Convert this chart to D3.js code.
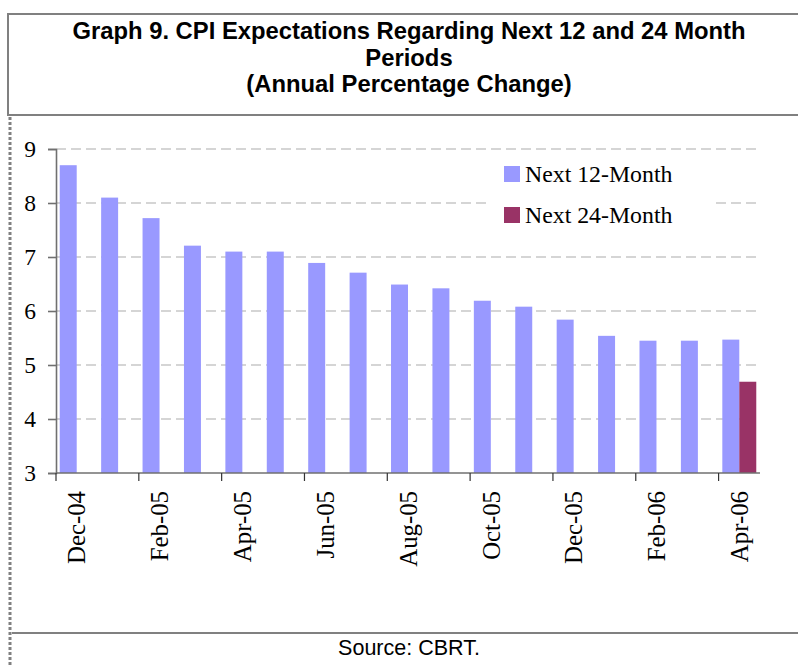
<!DOCTYPE html>
<html>
<head>
<meta charset="utf-8">
<script src="https://cdn.jsdelivr.net/npm/d3@7"></script>
<style>
  body { margin: 0; background: white; }
  svg { display: block; }
</style>
</head>
<body>
<svg width="798" height="666"></svg>
<script>
// data
const months = ['Dec-04','Jan-05','Feb-05','Mar-05','Apr-05','May-05','Jun-05','Jul-05','Aug-05',
                'Sep-05','Oct-05','Nov-05','Dec-05','Jan-06','Feb-06','Mar-06','Apr-06'];
const next12 = [8.7, 8.1, 7.72, 7.21, 7.1, 7.1, 6.89, 6.71, 6.49, 6.42, 6.19, 6.08, 5.84, 5.54, 5.45, 5.45, 5.47];
const next24 = [null, null, null, null, null, null, null, null, null, null, null, null, null, null, null, null, 4.69];
const seriesNames = ['Next 12-Month', 'Next 24-Month'];
const colors = ['#9999ff', '#993366'];
const yTicks = [3, 4, 5, 6, 7, 8, 9];

const svg = d3.select('svg');
const width = +svg.attr('width');
const height = +svg.attr('height');

const serif = '"Liberation Serif", "Times New Roman", serif';
const sans = '"Liberation Sans", Arial, sans-serif';

// frame: title box, dotted left edge, source line
svg.append('path')
    .attr('d', `M${width},14 H8 V115 H${width}`)
    .attr('fill', 'none')
    .attr('stroke', '#808080')
    .attr('stroke-width', 2);

svg.append('line')
    .attr('x1', 10).attr('x2', 10)
    .attr('y1', 117).attr('y2', height)
    .attr('stroke', '#808080')
    .attr('stroke-width', 3)
    .attr('stroke-dasharray', '3,2');

svg.append('line')
    .attr('x1', 12).attr('x2', width)
    .attr('y1', 633).attr('y2', 633)
    .attr('stroke', '#808080')
    .attr('stroke-width', 2);

const titleLines = ['Graph 9. CPI Expectations Regarding Next 12 and 24 Month', 'Periods', '(Annual Percentage Change)'];
svg.append('g')
    .selectAll('text')
    .data(titleLines)
  .enter().append('text')
    .attr('x', 409)
    .attr('y', (d, i) => 39 + i * 26.5)
    .attr('text-anchor', 'middle')
    .attr('font-family', sans)
    .attr('font-weight', 'bold')
    .attr('font-size', 23.8)
    .text(d => d);

svg.append('text')
    .attr('x', 409)
    .attr('y', 655)
    .attr('text-anchor', 'middle')
    .attr('font-family', sans)
    .attr('font-size', 21.5)
    .text('Source: CBRT.');

// chart
const x0 = d3.scaleBand()
    .domain(months)
    .range([56, 760])
    .paddingInner(0.18)
    .paddingOuter(0.09);

const x1 = d3.scaleBand()
    .domain([0, 1])
    .range([0, x0.bandwidth()]);

const y = d3.scaleLinear()
    .domain([3, 9])
    .range([473, 149]);

// gridlines
svg.append('g')
    .selectAll('line')
    .data(yTicks.slice(1))
  .enter().append('line')
    .attr('x1', 56).attr('x2', 757)
    .attr('y1', d => y(d)).attr('y2', d => y(d))
    .attr('stroke', '#c8c8c8')
    .attr('stroke-width', 1.5)
    .attr('stroke-dasharray', '10,5');

// bars
const rows = months.map((m, i) => ({ month: m, values: [next12[i], next24[i]] }));

svg.append('g')
    .selectAll('g')
    .data(rows)
  .enter().append('g')
    .attr('transform', d => `translate(${x0(d.month)},0)`)
    .selectAll('rect')
    .data(d => d.values.map((v, k) => ({ k, v })).filter(e => e.v != null))
  .enter().append('rect')
    .attr('x', d => x1(d.k))
    .attr('width', x1.bandwidth())
    .attr('y', d => y(d.v))
    .attr('height', d => y(3) - y(d.v))
    .attr('fill', d => colors[d.k]);

// y axis
const yAxis = svg.append('g')
    .attr('transform', 'translate(56,0)')
    .call(d3.axisLeft(y).tickValues(yTicks).tickSize(8).tickPadding(12).tickFormat(d3.format('d')));
yAxis.select('.domain').attr('stroke', '#707070').attr('stroke-width', 1.6);
yAxis.selectAll('.tick line').attr('stroke', '#707070').attr('stroke-width', 1.6);
yAxis.selectAll('text')
    .attr('font-family', serif)
    .attr('font-size', 23.5)
    .attr('fill', '#000');

// x axis
const step = x0.step();
const tickIdx = d3.range(0, months.length, 2);
const xAxis = svg.append('g');
xAxis.append('line')
    .attr('x1', 56).attr('x2', 760)
    .attr('y1', y(3)).attr('y2', y(3))
    .attr('stroke', '#707070')
    .attr('stroke-width', 1.6);
xAxis.selectAll('.xtick')
    .data(tickIdx)
  .enter().append('line')
    .attr('class', 'xtick')
    .attr('x1', i => x0(months[i]) - x0.paddingOuter() * step)
    .attr('x2', i => x0(months[i]) - x0.paddingOuter() * step)
    .attr('y1', y(3)).attr('y2', y(3) + 8)
    .attr('stroke', '#333')
    .attr('stroke-width', 1.2);
xAxis.selectAll('.xlabel')
    .data(tickIdx)
  .enter().append('text')
    .attr('class', 'xlabel')
    .attr('transform', i => `translate(${x0(months[i]) + x0.bandwidth() / 2},491) rotate(-90)`)
    .attr('dy', '0.35em')
    .attr('text-anchor', 'end')
    .attr('font-family', serif)
    .attr('font-size', 24.8)
    .text(i => months[i]);

// legend
const legend = svg.append('g');
legend.append('rect')
    .attr('x', 486).attr('y', 157)
    .attr('width', 230).attr('height', 82)
    .attr('fill', 'white');
const item = legend.selectAll('.item')
    .data(seriesNames)
  .enter().append('g')
    .attr('transform', (d, i) => `translate(504,${166 + i * 41})`);
item.append('rect')
    .attr('width', 16).attr('height', 16)
    .attr('fill', (d, i) => colors[i]);
item.append('text')
    .attr('x', 21)
    .attr('y', 16)
    .attr('font-family', serif)
    .attr('font-size', 23.8)
    .text(d => d);
</script>
</body>
</html>
